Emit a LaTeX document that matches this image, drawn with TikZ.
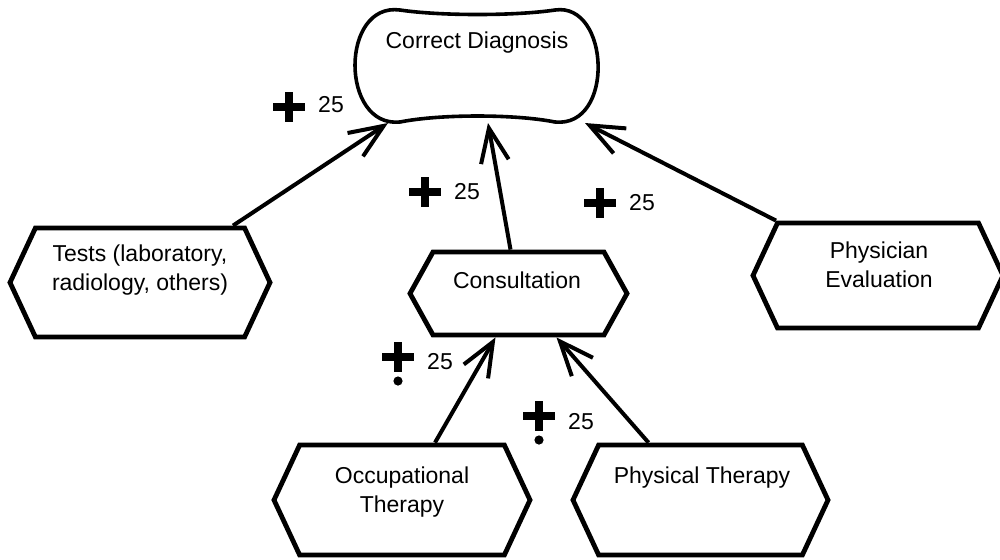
\documentclass[tikz,border=0pt]{standalone}
\usepackage{fontspec}
\setmainfont{Liberation Sans}
\usetikzlibrary{shapes.symbols,arrows.meta,calc}
\begin{document}
\begin{tikzpicture}[x=0.5pt,y=-0.5pt,>={Straight Barb[length=17pt,width=14pt]},
	box/.style={signal,signal to=west and east,draw,line width=2.4pt,inner sep=0pt,signal pointer angle=130},
	lbl/.style={font=\fontsize{11.5pt}{14.5pt}\selectfont,inner sep=0pt,align=center},
	link/.style={->,line width=2pt}]
	\useasboundingbox (0,0) rectangle (1000,559);
	% goal
	\draw[line width=1.8pt] (400,10) .. controls (440,16) and (515,16) .. (555,10)
		.. controls (610,2) and (615,128) .. (555,122)
		.. controls (515,114) and (440,114) .. (400,122)
		.. controls (340,128) and (340,2) .. (400,10) -- cycle;
	\node[lbl,anchor=base] (cd) at (477,48) {Correct Diagnosis};
	\coordinate (cdsw) at (388,123);
	\coordinate (cds) at (488,123);
	\coordinate (cdse) at (585,123);
	% sources
	\node[box,minimum width=130pt,minimum height=54.5pt] (tests) at (140,282.5) {};
	\node[box,minimum width=108.5pt,minimum height=41.5pt,signal pointer angle=122] (con) at (518.5,293.5) {};
	\node[box,minimum width=125pt,minimum height=52.5pt] (phys) at (878,275.5) {};
	\node[box,minimum width=128pt,minimum height=55pt] (occ) at (402,500) {};
	\node[box,minimum width=127.5pt,minimum height=55pt] (pt) at (700.5,500) {};
	\node[lbl,anchor=north] (testsl) at (140,244) {Tests (laboratory,\\radiology, others)};
	\node[lbl,anchor=base] (conl) at (517,288) {Consultation};
	\node[lbl,anchor=north] (physl) at (879,241) {Physician\\Evaluation};
	\node[lbl,anchor=north] (occl) at (402,466) {Occupational\\Therapy};
	\node[lbl,anchor=base] (ptl) at (702,483) {Physical Therapy};
	% links
	\draw[link] ($(tests.north)+(93,0)$) -- (cdsw);
	\draw[link] ($(con.north)+(-8,0)$) -- (cds);
	\draw[link] ($(phys.north)+(-102,0)$) -- (cdse);
	\draw[link] ($(occ.north)+(33,0)$) -- ($(con.south)+(-23,0)$);
	\draw[link] ($(pt.north)+(-52,0)$) -- ($(con.south)+(38,0)$);
	% scores
	\foreach \px/\py/\sx/\sy [count=\i] in {289/107/331/105, 425/192/467/192, 600/203/642/203, 398/357/440/362, 539/416/581/422}{
		\draw[line width=4pt] (\px-16,\py) -- (\px+16,\py) (\px,\py-15) -- (\px,\py+15);
		\node[lbl] (s\i) at (\sx,\sy) {25};
	}
	\fill (398,381) circle[radius=2.3pt];
	\fill (539,440) circle[radius=2.3pt];
\end{tikzpicture}
\end{document}
